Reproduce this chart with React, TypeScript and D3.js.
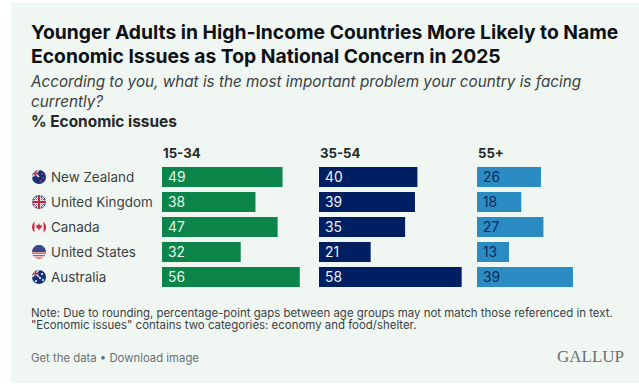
import React from "react";
import * as d3 from "d3";

const title = ["Younger Adults in High-Income Countries More Likely to Name", "Economic Issues as Top National Concern in 2025"];
const subtitle = ["According to you, what is the most important problem your country is facing", "currently?"];
const measure = "% Economic issues";
const countries = ["New Zealand", "United Kingdom", "Canada", "United States", "Australia"];
const ages = ["15-34", "35-54", "55+"];
const young = [49, 38, 47, 32, 56];
const middle = [40, 39, 35, 21, 58];
const older = [26, 18, 27, 13, 39];
const seriesValues = [young, middle, older];
const colors = ["#0b8549", "#001f63", "#2b8cc4"];
const labelColors = ["#e8f5ee", "#f0f4fa", "#0b2a55"];
const notes = ["Note: Due to rounding, percentage-point gaps between age groups may not match those referenced in text.", "\"Economic issues\" contains two categories: economy and food/shelter."];

const font = "Inter, sans-serif";
const x = d3.scaleLinear().domain([0, 100]).range([0, 246]);
const y = d3.scaleBand().domain(countries).range([167, 287]).paddingInner(0.2).paddingOuter(0).align(0);
const columnStarts = [162, 319, 477];

function Flag({ name, cy }: { name: string; cy: number }) {
  const id = "f" + name.replace(/\s/g, "");
  const cx = 39;
  const r = 7;
  let body: React.ReactNode = null;
  if (name === "New Zealand" || name === "Australia") {
    body = (
      <g>
        <rect x={cx - r} y={cy - r} width={2 * r} height={2 * r} fill="#12317a" />
        <path d={`M${cx - r} ${cy - r}L${cx} ${cy}M${cx} ${cy - r}L${cx - r} ${cy}`} stroke="#e9e9ef" strokeWidth={1.6} />
        <path d={`M${cx - 3.5} ${cy - r}V${cy}M${cx - r} ${cy - 3.5}H${cx}`} stroke="#c8243c" strokeWidth={1.4} />
        {(name === "Australia" ? [[3, -3], [4, 3], [1, 1], [-3, 4]] : [[3, -3], [4, 1], [2, 4]]).map((p, i) => (
          <circle key={i} cx={cx + p[0]} cy={cy + p[1]} r={name === "Australia" ? 1.1 : 0.9} fill={name === "Australia" ? "#f2f2f5" : "#d8354b"} />
        ))}
      </g>
    );
  } else if (name === "United Kingdom") {
    body = (
      <g>
        <rect x={cx - r} y={cy - r} width={2 * r} height={2 * r} fill="#35478a" />
        <path d={`M${cx - r} ${cy - r}L${cx + r} ${cy + r}M${cx + r} ${cy - r}L${cx - r} ${cy + r}`} stroke="#eee" strokeWidth={2.4} />
        <path d={`M${cx - r} ${cy - r}L${cx + r} ${cy + r}M${cx + r} ${cy - r}L${cx - r} ${cy + r}`} stroke="#c8243c" strokeWidth={0.8} />
        <path d={`M${cx} ${cy - r}V${cy + r}M${cx - r} ${cy}H${cx + r}`} stroke="#eee" strokeWidth={3.6} />
        <path d={`M${cx} ${cy - r}V${cy + r}M${cx - r} ${cy}H${cx + r}`} stroke="#c8243c" strokeWidth={2} />
      </g>
    );
  } else if (name === "Canada") {
    body = (
      <g>
        <rect x={cx - r} y={cy - r} width={2 * r} height={2 * r} fill="#f1f4f2" />
        <rect x={cx - r} y={cy - r} width={2.4} height={2 * r} fill="#d2233a" />
        <rect x={cx + r - 2.4} y={cy - r} width={2.4} height={2 * r} fill="#d2233a" />
        <path d={`M${cx} ${cy - 3.8}L${cx + 1} ${cy - 1.6}L${cx + 3} ${cy - 2.2}L${cx + 2.4} ${cy + 0.8}L${cx + 0.4} ${cy + 2}V${cy + 3.6}H${cx - 0.4}V${cy + 2}L${cx - 2.4} ${cy + 0.8}L${cx - 3} ${cy - 2.2}L${cx - 1} ${cy - 1.6}Z`} fill="#d2233a" />
      </g>
    );
  } else {
    body = (
      <g>
        <rect x={cx - r} y={cy - r} width={2 * r} height={2 * r} fill="#f0f0f2" />
        {[-7, -4.5, -2, 0.5, 3, 5.5].map((d) => (
          <rect key={d} x={cx - r} y={cy + d} width={2 * r} height={1.3} fill="#d2485a" />
        ))}
        <rect x={cx - r} y={cy - r} width={2 * r} height={7} fill="#3a4a86" />
      </g>
    );
  }
  return (
    <g>
      <clipPath id={id}><circle cx={cx} cy={cy} r={r} /></clipPath>
      <g clipPath={`url(#${id})`}>{body}</g>
    </g>
  );
}

export default function App() {
  return (
    <svg width={639} height={384} style={{ position: "absolute", left: 0, top: 0 }} fontFamily={font}>
      <rect width={639} height={384} fill="#ffffff" />
      <rect x={11} y={3} width={628} height={380} fill="#f0f7f2" />
      {title.map((t, i) => (
        <text key={t} x={31} y={38.5 + i * 24} fontSize={19.3} fontWeight={700} fill="#0d1117">{t}</text>
      ))}
      {subtitle.map((t, i) => (
        <text key={t} x={31} y={87 + i * 20} fontSize={15.25} fontStyle="italic" fill="#3a3f44">{t}</text>
      ))}
      <text x={31} y={127} fontSize={15.4} fontWeight={700} fill="#25282b">{measure}</text>
      {ages.map((a, i) => (
        <text key={a} x={columnStarts[i] + 1} y={158} fontSize={13.2} fontWeight={700} fill="#25282b">{a}</text>
      ))}
      {countries.map((c) => {
        const cy = (y(c) as number) + y.bandwidth() / 2;
        return (
          <g key={c}>
            <Flag name={c} cy={cy} />
            <text x={51} y={cy + 4.5} fontSize={13.4} fill="#3a3f44">{c}</text>
          </g>
        );
      })}
      {seriesValues.map((vals, s) => (
        <g key={ages[s]}>
          {vals.map((v, i) => {
            const by = y(countries[i]) as number;
            return (
              <g key={countries[i]}>
                <rect x={columnStarts[s]} y={by} width={x(v)} height={y.bandwidth()} fill={colors[s]} />
                <text x={columnStarts[s] + 6} y={by + y.bandwidth() / 2 + 4.5} fontSize={13.8} fill={labelColors[s]}>{v}</text>
              </g>
            );
          })}
        </g>
      ))}
      {notes.map((t, i) => (
        <text key={t} x={31} y={316.5 + i * 12} fontSize={11.45} fill="#3a3f44">{t}</text>
      ))}
      <text x={31} y={362} fontSize={11.35} fill="#6a6f72">Get the data • Download image</text>
      <text x={624} y={362} textAnchor="end" fontFamily="'Liberation Serif', serif" fontSize={17} fill="#6a6f72">GALLUP</text>
    </svg>
  );
}
